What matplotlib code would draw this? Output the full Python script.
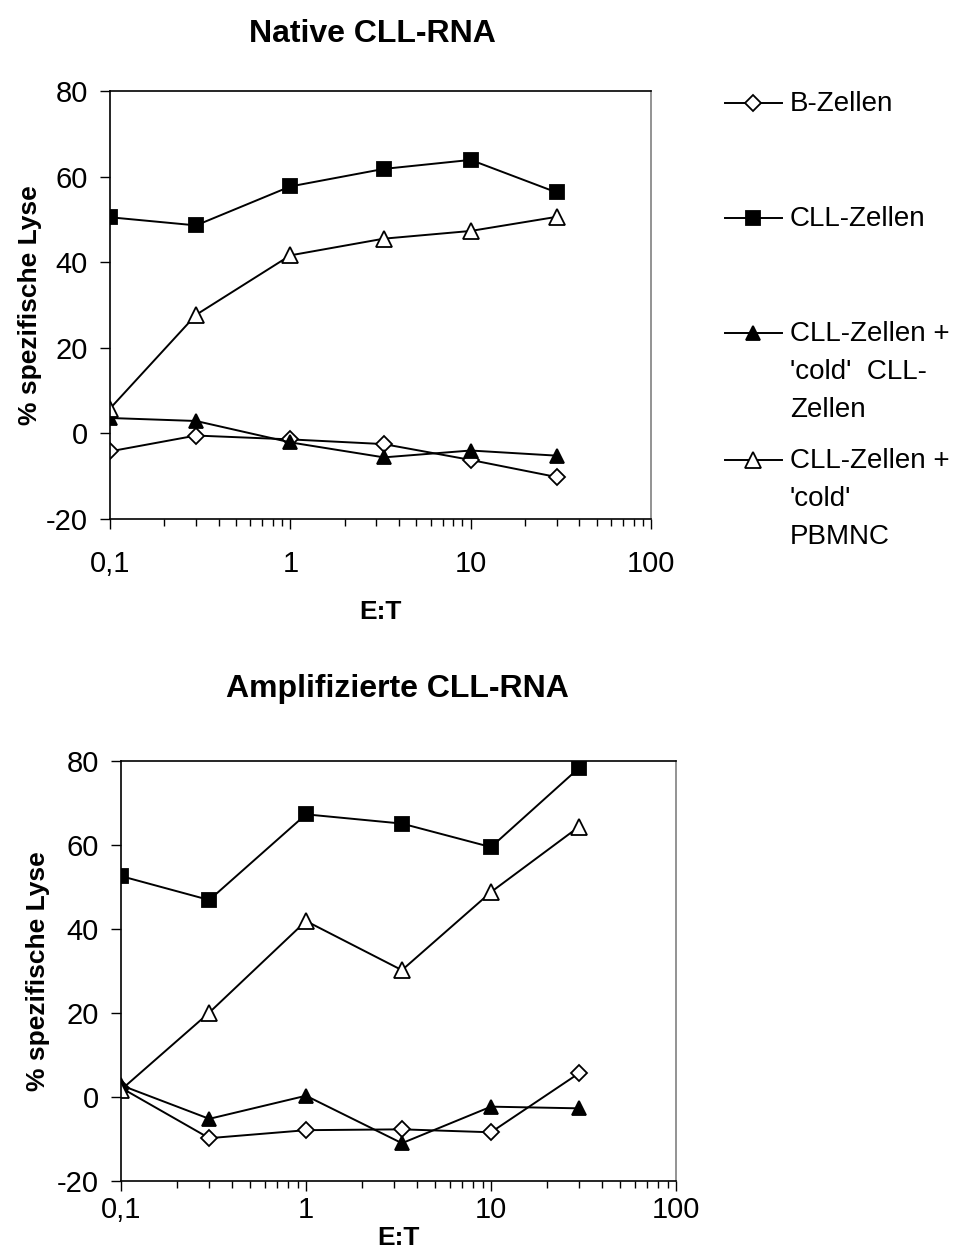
import numpy as np
import matplotlib.pyplot as plt
from matplotlib.lines import Line2D
from matplotlib.ticker import FixedLocator, LogLocator, NullFormatter

# E:T ratios
et = [0.1, 0.3, 1, 3.3, 10, 30]

# Native CLL-RNA
nat_b = [-4.2, -0.5, -1.4, -2.5, -6.2, -10.2]
nat_cll = [50.5, 48.6, 57.7, 61.8, 63.9, 56.3]
nat_cold_cll = [3.6, 2.9, -2.1, -5.6, -4.0, -5.2]
nat_cold_pbmnc = [5.8, 27.7, 41.6, 45.5, 47.3, 50.6]

# Amplifizierte CLL-RNA
amp_b = [2.2, -9.8, -7.9, -7.7, -8.4, 5.7]
amp_cll = [52.6, 46.9, 67.3, 65.1, 59.5, 78.4]
amp_cold_cll = [2.8, -5.2, 0.3, -11.0, -2.3, -2.7]
amp_cold_pbmnc = [1.7, 20.1, 41.9, 30.2, 48.8, 64.4]

labels = ['B-Zellen', 'CLL-Zellen',
          "CLL-Zellen +\n'cold'  CLL-\nZellen",
          "CLL-Zellen +\n'cold'\nPBMNC"]
titles = ['Native CLL-RNA', 'Amplifizierte CLL-RNA']
xticks = [0.1, 1, 10, 100]
xticklabels = ['0,1', '1', '10', '100']
yticks = [-20, 0, 20, 40, 60, 80]

plt.rcParams['font.family'] = ['Liberation Sans', 'DejaVu Sans']

styles = [dict(marker='D', ms=8, mfc='white'),
          dict(marker='s', ms=10, mfc='black'),
          dict(marker='^', ms=10, mfc='black'),
          dict(marker='^', ms=11, mfc='white')]

W, H = 962, 1253
fig = plt.figure(figsize=(W / 100, H / 100), dpi=100)

boxes = [(110, 91, 651, 519), (121, 761, 676, 1181)]
data = [[nat_b, nat_cll, nat_cold_cll, nat_cold_pbmnc],
        [amp_b, amp_cll, amp_cold_cll, amp_cold_pbmnc]]
title_pos = [(372, 34), (397, 689)]
xpads = [(15, 16), (4, 1)]   # tick label pad, xlabel pad
ypads = [3, 5]

for i, ((x0, y0, x1, y1), series, title, tp) in enumerate(
        zip(boxes, data, titles, title_pos)):
    ax = fig.add_axes([x0 / W, 1 - y1 / H, (x1 - x0) / W, (y1 - y0) / H])
    for ys, st in zip(series, styles):
        ax.plot(et, ys, color='black', lw=1.4, mec='black', mew=1.3, **st)
    ax.set_xscale('log')
    ax.set_xlim(0.1, 100)
    ax.set_ylim(-20, 80)
    ax.xaxis.set_major_locator(FixedLocator(xticks))
    ax.set_xticklabels(xticklabels, fontsize=21)
    ax.xaxis.set_minor_locator(LogLocator(base=10, subs=np.arange(2, 10)))
    ax.xaxis.set_minor_formatter(NullFormatter())
    ax.set_yticks(yticks)
    ax.set_yticklabels([str(v) for v in yticks], fontsize=21)
    ax.tick_params(axis='both', which='major', direction='out', length=7,
                   width=1, pad=9)
    ax.tick_params(axis='x', which='minor', direction='out', length=5, width=1)
    ax.tick_params(axis='x', which='major', pad=xpads[i][0])
    for s in ['left', 'bottom', 'top']:
        ax.spines[s].set_color('black')
        ax.spines[s].set_linewidth(1.2)
    ax.spines['right'].set_color('#808080')
    ax.spines['right'].set_linewidth(1.2)
    ax.set_xlabel('E:T', fontsize=19, fontweight='bold', labelpad=xpads[i][1])
    ax.set_ylabel('% spezifische Lyse', fontsize=19, fontweight='bold',
                  labelpad=ypads[i])
    fig.text(tp[0] / W, 1 - tp[1] / H, title, fontsize=23,
             fontweight='bold', ha='center', va='center')

# legend, drawn by hand to the right of the upper chart
leg_y = [103, 218, 333, 460]
for y, lab, st in zip(leg_y, labels, styles):
    yf = 1 - y / H
    fig.add_artist(Line2D([725 / W, 782 / W], [yf, yf], color='black',
                          lw=1.4, transform=fig.transFigure))
    fig.add_artist(Line2D([753 / W], [yf], color='black', mec='black',
                          mew=1.3, transform=fig.transFigure, **st))
    fig.text(790 / W, 1 - (y - 12) / H, lab, fontsize=20, ha='left',
             va='top', linespacing=1.6)

fig.savefig('out.png', dpi=100)
